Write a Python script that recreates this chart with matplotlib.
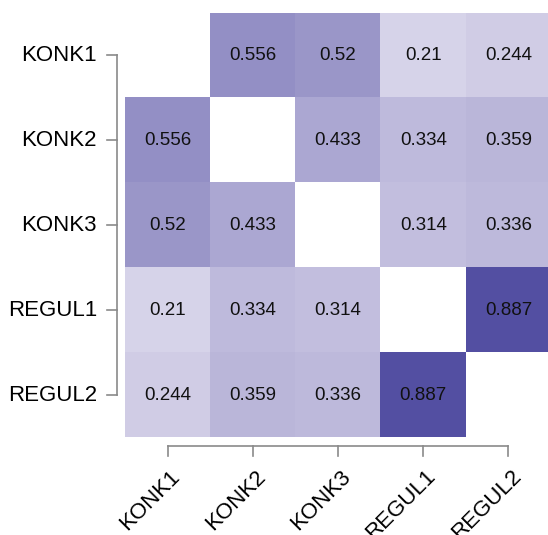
import numpy as np
import matplotlib.pyplot as plt
from matplotlib.colors import LinearSegmentedColormap

# variable names and pairwise values (upper triangle, row-wise)
labels = ["KONK1", "KONK2", "KONK3", "REGUL1", "REGUL2"]
row_konk1 = [0.556, 0.52, 0.21, 0.244]
row_konk2 = [0.433, 0.334, 0.359]
row_konk3 = [0.314, 0.336]
row_regul1 = [0.887]

plt.rcParams['font.family'] = ['Liberation Sans', 'DejaVu Sans']

n = len(labels)
mat = np.full((n, n), np.nan)
for i, row in enumerate([row_konk1, row_konk2, row_konk3, row_regul1]):
    for k, v in enumerate(row):
        j = i + 1 + k
        mat[i, j] = v
        mat[j, i] = v

cmap = LinearSegmentedColormap.from_list("corr", [(1.0, 0.985, 1.0), (0.243, 0.227, 0.592)])
cmap.set_bad("white")

W, H = 548, 535
fig = plt.figure(figsize=(W / 100, H / 100), dpi=100)
# cell block in pixels: x 125..551, y 13..437
x0, x1, y0, y1 = 125, 551, 13, 437.5
ax = fig.add_axes([x0 / W, 1 - y1 / H, (x1 - x0) / W, (y1 - y0) / H])
ax.imshow(np.ma.masked_invalid(mat), cmap=cmap, vmin=0, vmax=1, aspect="auto",
          interpolation="nearest")
ax.set_xlim(-0.5, n - 0.5)
ax.set_ylim(n - 0.5, -0.5)
ax.axis("off")

for i in range(n):
    for j in range(n):
        if not np.isnan(mat[i, j]):
            ax.text(j, i, f"{mat[i, j]:g}", ha="center", va="center", fontsize=13.5, color="#111111")

cw = (x1 - x0) / n
ch = (y1 - y0) / n
gray = "#8a8a8a"

# left axis (R style, detached)
xl = -0.5 + (117 - x0) / cw
xt = -0.5 + (107 - x0) / cw
ax.plot([xl, xl], [0, n - 1], color=gray, lw=1.2, clip_on=False)
for i in range(n):
    ax.plot([xt, xl], [i, i], color=gray, lw=1.2, clip_on=False)
    ax.text(-0.5 + (97 - x0) / cw, i, labels[i], ha="right", va="center", fontsize=16)

# bottom axis
yb = n - 0.5 + (446 - y1) / ch
ytk = n - 0.5 + (456 - y1) / ch
ax.plot([0, n - 1], [yb, yb], color=gray, lw=1.2, clip_on=False)
for j in range(n):
    ax.plot([j, j], [yb, ytk], color=gray, lw=1.2, clip_on=False)
    ax.text(j + 2 / cw, n - 0.5 + (466 - y1) / ch, labels[j], ha="right", va="top",
            rotation=45, rotation_mode="anchor", fontsize=16)

fig.savefig("out.png", dpi=100)
